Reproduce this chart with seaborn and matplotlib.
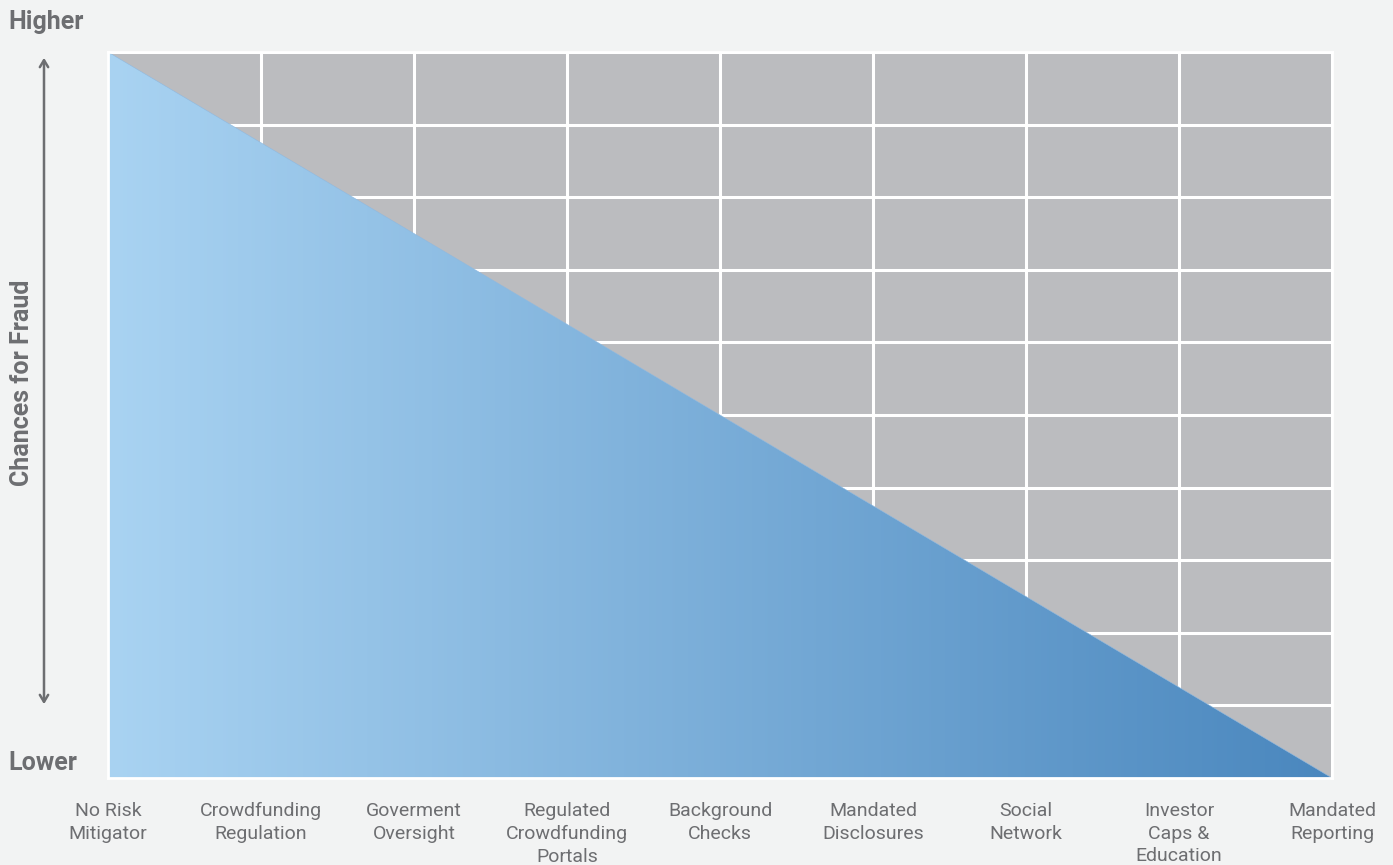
import numpy as np
import matplotlib
matplotlib.use("Agg")
import matplotlib.pyplot as plt
import seaborn as sns
from matplotlib.colors import LinearSegmentedColormap

categories = ["No Risk\nMitigator", "Crowdfunding\nRegulation", "Goverment\nOversight",
              "Regulated\nCrowdfunding\nPortals", "Background\nChecks", "Mandated\nDisclosures",
              "Social\nNetwork", "Investor\nCaps &\nEducation", "Mandated\nReporting"]
fraud_chance = [10, 8.75, 7.5, 6.25, 5, 3.75, 2.5, 1.25, 0]
y_grid = [0, 1, 2, 3, 4, 5, 6, 7, 8, 9, 10]

sns.set_theme(style="white")
plt.rcParams['font.family'] = ['Roboto', 'DejaVu Sans']

text_col = "#6d6e71"
fig = plt.figure(figsize=(13.93, 8.65), dpi=100, facecolor="#f2f3f3")
ax = fig.add_axes([108/1393, 1 - 778/865, (1332-108)/1393, (778-52)/865])
ax.set_facecolor("#bbbcbf")

x = np.arange(len(categories))
ax.set_xlim(0, len(categories) - 1)
ax.set_ylim(0, 10)
ax.set_xticks(x)
ax.set_xticklabels(categories, fontsize=14, color=text_col, linespacing=1.35)
ax.set_yticks(y_grid)
ax.set_yticklabels([])
ax.tick_params(axis="x", length=0, pad=17)
ax.tick_params(axis="y", length=0)
ax.grid(True, color="white", linewidth=2.2)
ax.set_axisbelow(True)

# triangle with horizontal gradient
poly = ax.fill_between(x, 0, fraud_chance, color="none", zorder=2)
cmap = LinearSegmentedColormap.from_list("bl", ["#a9d3f2", "#4a87be"])
grad = np.linspace(0, 1, 512).reshape(1, -1)
im = ax.imshow(grad, cmap=cmap, aspect="auto", extent=[0, len(categories) - 1, 0, 10],
               zorder=2, interpolation="bicubic")
im.set_clip_path(poly.get_paths()[0], transform=ax.transData)
sns.lineplot(x=x, y=fraud_chance, ax=ax, color="#8fb9e0", linewidth=0.4, zorder=3)

for s in ax.spines.values():
    s.set_visible(True)
    s.set_color("white")
    s.set_linewidth(2)
    s.set_zorder(5)

# y-axis annotation
fig.text(8/1393, 1 - 22/865, "Higher", fontsize=18, fontweight="bold", color=text_col,
         ha="left", va="center")
fig.text(8/1393, 1 - 763/865, "Lower", fontsize=18, fontweight="bold", color=text_col,
         ha="left", va="center")
fig.text(22/1393, 1 - 383/865, "Chances for Fraud", fontsize=18, fontweight="bold",
         color=text_col, rotation=90, ha="center", va="center")
fig.add_artist(matplotlib.patches.FancyArrowPatch(
    (44/1393, 1 - 707/865), (44/1393, 1 - 55/865), transform=fig.transFigure,
    arrowstyle="<->,head_length=5,head_width=3", color=text_col, linewidth=1.8))

fig.savefig("out.png", dpi=100, facecolor=fig.get_facecolor())
